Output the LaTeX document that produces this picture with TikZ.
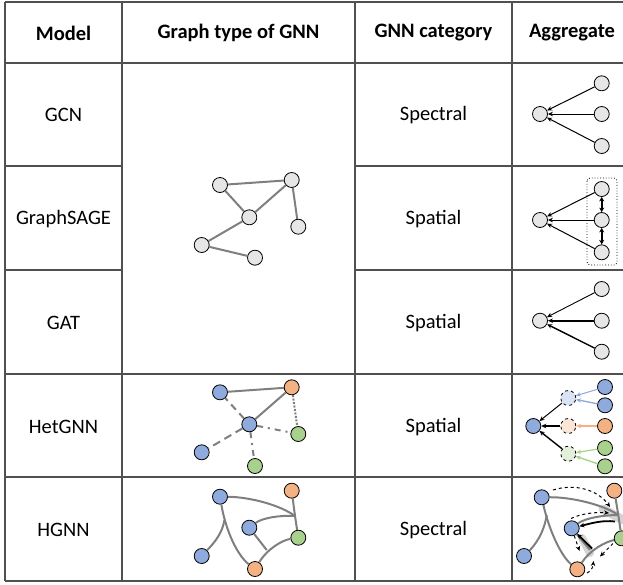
\documentclass[tikz,border=0pt]{standalone}
\usepackage{fontspec}
\setmainfont{Carlito}
\usetikzlibrary{arrows.meta}
\definecolor{tline}{HTML}{505050}
\definecolor{eline}{HTML}{7F7F7F}
\definecolor{ngray}{HTML}{E6E6E6}
\definecolor{nblue}{HTML}{8FAADC}
\definecolor{norange}{HTML}{F4B183}
\definecolor{ngreen}{HTML}{A9D18E}
\definecolor{lblue}{HTML}{DAE3F3}
\definecolor{lorange}{HTML}{FBE5D6}
\definecolor{lgreen}{HTML}{E2F0D9}
\definecolor{glow}{HTML}{D4D4D4}
\begin{document}
\begin{tikzpicture}[x=1pt,y=-1pt,
  gn/.style={circle,draw=black,line width=0.8pt,minimum size=15pt,inner sep=0pt,fill=ngray},
  bn/.style={gn,fill=nblue},
  on/.style={gn,fill=norange},
  grn/.style={gn,fill=ngreen},
  ghost/.style={gn,dashed},
  edge/.style={draw=eline,line width=2pt},
  tl/.style={draw=tline,line width=1.5pt},
  agg/.style={-{Stealth[length=5pt,width=4.5pt]},line width=1pt},
  hdr/.style={font=\bfseries\fontsize{20.5}{24}\selectfont},
  cell/.style={font=\fontsize{20.5}{24}\selectfont}]
\useasboundingbox (0,0) rectangle (623,584);
% table lines
\draw[tl] (5,2) -- (623,2);
\draw[tl] (5,63) -- (623,63);
\draw[tl] (5,166) -- (122,166);
\draw[tl] (355,166) -- (623,166);
\draw[tl] (5,270) -- (122,270);
\draw[tl] (355,270) -- (623,270);
\draw[tl] (5,374) -- (623,374);
\draw[tl] (5,477) -- (623,477);
\draw[tl] (5,581) -- (623,581);
\draw[tl] (5,2) -- (5,581);
\draw[tl] (122,2) -- (122,581);
\draw[tl] (355,2) -- (355,581);
\draw[tl] (512,2) -- (512,581);
% headers
\node[hdr] (h1) at (63.5,33) {Model};
\node[hdr] (h2) at (238.5,33) {Graph type of GNN};
\node[hdr] (h3) at (433.5,33) {GNN category};
\node[hdr] (h4) at (572,33) {Aggregate};
% row texts
\node[cell] (m1) at (63.5,115) {GCN};
\node[cell] (c1) at (433.5,115) {Spectral};
\node[cell] (m2) at (63.5,219) {GraphSAGE};
\node[cell] (c2) at (433.5,219) {Spatial};
\node[cell] (m3) at (63.5,323) {GAT};
\node[cell] (c3) at (433.5,323) {Spatial};
\node[cell] (m4) at (63.5,427) {HetGNN};
\node[cell] (c4) at (433.5,427) {Spatial};
\node[cell] (m5) at (63.5,530) {HGNN};
\node[cell] (c5) at (433.5,530) {Spectral};
% main graph
\node[gn] (g1) at (220,185) {};
\node[gn] (g2) at (291.7,180) {};
\node[gn] (g3) at (249.3,217.3) {};
\node[gn] (g4) at (298.3,226.7) {};
\node[gn] (g5) at (201.7,245) {};
\node[gn] (g6) at (255,257.7) {};
\draw[edge] (g1) -- (g2);
\draw[edge] (g1) -- (g3);
\draw[edge] (g3) -- (g2);
\draw[edge] (g2) -- (g4);
\draw[edge] (g3) -- (g5);
\draw[edge] (g5) -- (g6);
% GCN aggregate
\node[gn] (t1) at (540,114) {};
\node[gn] (s11) at (601.7,83.3) {};
\node[gn] (s12) at (601.7,114) {};
\node[gn] (s13) at (601.7,146) {};
\draw[agg] (s11) -- (t1);
\draw[agg] (s12) -- (t1);
\draw[agg] (s13) -- (t1);
% GraphSAGE aggregate
\draw[dotted,rounded corners=3pt,line width=0.8pt] (587,178) rectangle (617,265);
\node[gn] (t2) at (540,220) {};
\node[gn] (s21) at (601.7,189) {};
\node[gn] (s22) at (601.7,220) {};
\node[gn] (s23) at (601.7,252.3) {};
\draw[agg] (s21) -- (t2);
\draw[agg] (s22) -- (t2);
\draw[agg] (s23) -- (t2);
\draw[{Stealth[length=4.5pt,width=5pt]}-{Stealth[length=4.5pt,width=5pt]},line width=1.8pt] (s21) -- (s22);
\draw[{Stealth[length=4.5pt,width=5pt]}-{Stealth[length=4.5pt,width=5pt]},line width=1.8pt] (s22) -- (s23);
% GAT aggregate
\node[gn] (t3) at (540,320.7) {};
\node[gn] (s31) at (601.7,289) {};
\node[gn] (s32) at (601.7,320.7) {};
\node[gn] (s33) at (601.7,351.7) {};
\draw[agg,line width=0.9pt] (s31) -- (t3);
\draw[agg,line width=2.2pt] (s32) -- (t3);
\draw[agg,line width=1.4pt] (s33) -- (t3);
% HetGNN graph
\node[bn] (e1) at (220,392.3) {};
\node[on] (e2) at (291.7,387.3) {};
\node[bn] (e3) at (249.3,424.3) {};
\node[grn] (e4) at (298.3,434) {};
\node[bn] (e5) at (201.7,452.3) {};
\node[grn] (e6) at (255,466) {};
\draw[edge] (e1) -- (e2);
\draw[edge] (e3) -- (e2);
\draw[edge,dash pattern=on 7pt off 5pt] (e3) -- (e1);
\draw[edge,dash pattern=on 8pt off 5pt] (e3) -- (e5);
\draw[edge,dash pattern=on 6pt off 5pt on 2pt off 5pt] (e3) -- (e4);
\draw[edge,dash pattern=on 6pt off 5pt on 2pt off 5pt] (e3) -- (e6);
\draw[edge,dash pattern=on 2pt off 1.5pt] (e2) -- (e4);
% HetGNN aggregate
\node[bn] (t4) at (533.3,426) {};
\node[ghost,fill=lblue] (i1) at (568.3,398) {};
\node[ghost,fill=lorange] (i2) at (568.3,426) {};
\node[ghost,fill=lgreen] (i3) at (568.3,453.7) {};
\node[bn] (s41) at (605,387) {};
\node[bn] (s42) at (605,405.3) {};
\node[on] (s43) at (605,426) {};
\node[grn] (s44) at (605,448) {};
\node[grn] (s45) at (605,466.3) {};
\draw[agg,draw=nblue,fill=nblue] (s41) -- (i1);
\draw[agg,draw=nblue,fill=nblue,line width=1.4pt] (s42) -- (i1);
\draw[agg,draw=norange,fill=norange,line width=1.3pt] (s43) -- (i2);
\draw[agg,draw=ngreen,fill=ngreen,line width=1.2pt] (s44) -- (i3);
\draw[agg,draw=ngreen,fill=ngreen,line width=1.4pt] (s45) -- (i3);
\draw[agg] (i1) -- (t4);
\draw[agg,line width=2.2pt] (i2) -- (t4);
\draw[agg,line width=1.4pt] (i3) -- (t4);
% HGNN graph
\node[bn] (k1) at (220,496.7) {};
\node[on] (k2) at (291.7,490.7) {};
\node[bn] (k3) at (249.3,527.7) {};
\node[grn] (k4) at (298.3,537.7) {};
\node[bn] (k5) at (201.7,556) {};
\node[on] (k6) at (255,569) {};
\coordinate (khub) at (295,516);
\coordinate (kj1) at (224.5,520);
\coordinate (kj2) at (266.7,550);
\draw[edge] (k1) .. controls (250,497) and (280,505) .. (khub);
\draw[edge] (k2) -- (khub) -- (k4);
\draw[edge] (k3) .. controls (262,518) and (280,515) .. (khub);
\draw[edge] (k1) .. controls (226,532) and (238,556) .. (k6);
\draw[edge] (kj1) .. controls (222,535) and (212,545) .. (k5);
\draw[edge] (k6) .. controls (268,548) and (283,540) .. (k4);
\draw[edge] (k3) -- (kj2);
% HGNN aggregate
\draw[glow,line width=9pt,line cap=round] (603,509) -- (623,520);
\draw[glow,line width=8pt,line cap=round] (582,538) -- (590,553);
\node[bn] (a1) at (541.7,497.3) {};
\node[on] (a2) at (614.3,490.7) {};
\node[bn] (a3) at (571.7,528.3) {};
\node[grn] (a4) at (621.7,538.3) {};
\node[bn] (a5) at (524,556) {};
\node[on] (a6) at (577.3,569.3) {};
\coordinate (ahub) at (618.3,515);
\coordinate (aj1) at (546.7,515);
\coordinate (aj2) at (590,550);
\draw[edge] (a1) .. controls (572,497) and (604,505) .. (ahub);
\draw[edge] (a2) -- (ahub) -- (a4);
\draw[edge] (a3) .. controls (585,518) and (604,515) .. (ahub);
\draw[edge] (a1) .. controls (549,530) and (561,556) .. (a6);
\draw[edge] (aj1) .. controls (544,533) and (535,545) .. (a5);
\draw[edge] (a6) .. controls (590,550) and (605,542) .. (a4);
\draw[edge] (a3) -- (aj2);
\coordinate (d1s) at (553,490);
\coordinate (d1e) at (610,507);
\draw[agg,dashed] (d1s) .. controls (575,483) and (598,490) .. (d1e);
\coordinate (d2s) at (571,518.5);
\coordinate (d2e) at (609,513);
\draw[agg,dashed] (d2s) .. controls (582,513) and (598,512) .. (d2e);
\coordinate (d3s) at (615,521.5);
\draw[agg,line width=1.8pt] (d3s) .. controls (603,520) and (592,523) .. (a3);
\coordinate (d4s) at (592,548.5);
\draw[agg,line width=1.8pt] (d4s) -- (a3);
\coordinate (d5e) at (579.5,551);
\draw[agg,dashed] (a3) -- (d5e);
\coordinate (d6s) at (613,543.5);
\coordinate (d6e) at (600,556.5);
\draw[agg,dashed] (d6s) -- (d6e);
\coordinate (d7s) at (587,573);
\coordinate (d7e) at (593.5,561);
\draw[agg,dashed] (d7s) .. controls (592,571) and (593,566) .. (d7e);
\end{tikzpicture}
\end{document}
